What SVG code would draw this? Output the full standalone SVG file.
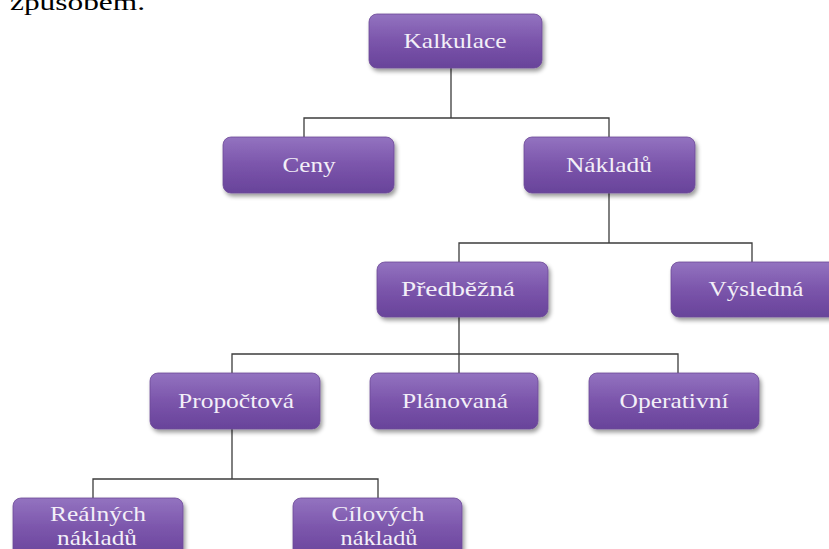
<svg xmlns="http://www.w3.org/2000/svg" width="829" height="549" viewBox="0 0 829 549">
  <defs>
    <linearGradient id="g" x1="0" y1="0" x2="0" y2="1">
      <stop offset="0" stop-color="#9373c0"/>
      <stop offset="0.5" stop-color="#7b55ab"/>
      <stop offset="1" stop-color="#68439a"/>
    </linearGradient>
    <filter id="sh" x="-10%" y="-10%" width="130%" height="140%">
      <feDropShadow dx="2" dy="3" stdDeviation="2" flood-color="#000" flood-opacity="0.4"/>
    </filter>
  </defs>
  <style>
    .box { fill: url(#g); stroke: #6d4a98; stroke-width: 0.8; filter: url(#sh); }
    .t { font-family: "Liberation Serif", "Times New Roman", serif; font-size: 21px; fill: #f3eff8; text-anchor: middle; }
    .c { fill: none; stroke: #3c3c3c; stroke-width: 1.3; }
    .body { font-family: "Liberation Serif", "Times New Roman", serif; font-size: 24px; fill: #000; }
  </style>
  <rect width="829" height="549" fill="#ffffff"/>
  <text class="body" x="10" y="10" textLength="135" lengthAdjust="spacingAndGlyphs">způsobem.</text>

  <g id="connectors">
    <path class="c" d="M451 68 V118 M304 137 V118 H609 V137"/>
    <path class="c" d="M609 193 V243 M459 262 V243 H752 V262"/>
    <path class="c" d="M459 317 V373 M232 373 V354 H678 V373"/>
    <path class="c" d="M232 429 V479 M93 498 V479 H378 V498"/>
  </g>

  <g id="kalkulace">
    <rect class="box" x="369" y="14" width="173" height="54" rx="8"/>
    <text class="t" x="455" y="48" textLength="103" lengthAdjust="spacingAndGlyphs">Kalkulace</text>
  </g>
  <g id="ceny">
    <rect class="box" x="223" y="137" width="171" height="56" rx="8"/>
    <text class="t" x="309" y="172" textLength="53" lengthAdjust="spacingAndGlyphs">Ceny</text>
  </g>
  <g id="nakladu">
    <rect class="box" x="524" y="137" width="171" height="56" rx="8"/>
    <text class="t" x="609" y="172" textLength="86" lengthAdjust="spacingAndGlyphs">Nákladů</text>
  </g>
  <g id="predbezna">
    <rect class="box" x="377" y="262" width="171" height="55" rx="8"/>
    <text class="t" x="458" y="296" textLength="114" lengthAdjust="spacingAndGlyphs">Předběžná</text>
  </g>
  <g id="vysledna">
    <rect class="box" x="671" y="262" width="171" height="55" rx="8"/>
    <text class="t" x="756" y="296" textLength="95" lengthAdjust="spacingAndGlyphs">Výsledná</text>
  </g>
  <g id="propoctova">
    <rect class="box" x="150" y="373" width="170" height="56" rx="8"/>
    <text class="t" x="236" y="408" textLength="116" lengthAdjust="spacingAndGlyphs">Propočtová</text>
  </g>
  <g id="planovana">
    <rect class="box" x="370" y="373" width="168" height="56" rx="8"/>
    <text class="t" x="455" y="408" textLength="106" lengthAdjust="spacingAndGlyphs">Plánovaná</text>
  </g>
  <g id="operativni">
    <rect class="box" x="589" y="373" width="170" height="56" rx="8"/>
    <text class="t" x="674" y="408" textLength="109" lengthAdjust="spacingAndGlyphs">Operativní</text>
  </g>
  <g id="realnych">
    <rect class="box" x="13" y="498" width="170" height="62" rx="8"/>
    <text class="t" x="98" y="521" textLength="96" lengthAdjust="spacingAndGlyphs">Reálných</text>
    <text class="t" x="97" y="545" textLength="80" lengthAdjust="spacingAndGlyphs">nákladů</text>
  </g>
  <g id="cilovych">
    <rect class="box" x="293" y="498" width="169" height="62" rx="8"/>
    <text class="t" x="378" y="521" textLength="93" lengthAdjust="spacingAndGlyphs">Cílových</text>
    <text class="t" x="379" y="545" textLength="77" lengthAdjust="spacingAndGlyphs">nákladů</text>
  </g>
</svg>
